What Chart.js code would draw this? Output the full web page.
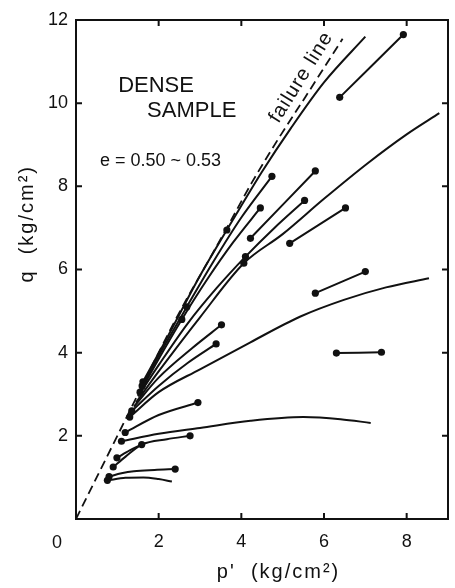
<!DOCTYPE html>
<html><head><meta charset="utf-8">
<script src="https://cdn.jsdelivr.net/npm/chart.js@4.4.1/dist/chart.umd.min.js"></script>
<style>html,body{margin:0;padding:0;background:#fff;}</style>
</head><body>
<canvas id="c" width="455" height="588"></canvas>
<script>
// ---- data (p', q) in kg/cm2 ----
const xTicks = [2, 4, 6, 8];
const yTicks = [2, 4, 6, 8, 10, 12];
const failureLine = [[0,0],[0.5,1.0],[1.0,2.0],[1.6,3.2],[2.0,4.0],[2.6,5.15],[3.2,6.2],[3.65,7.0],[4.26,8.1],[4.9,9.15],[5.55,10.15],[6.0,10.85],[6.45,11.55]];
const pathL1 = [[1.62,3.3],[2.2,4.35],[3.0,5.85],[3.8,7.2],[4.5,8.35],[5.2,9.4],[6.0,10.5],[7.0,11.6]];
const pathL2 = [[1.6,3.2],[2.1,4.1],[2.68,5.1],[3.3,6.15],[4.0,7.25],[4.74,8.24]];
const pathL3 = [[1.55,3.05],[2.0,3.85],[2.56,4.8],[3.2,5.8],[3.8,6.65],[4.46,7.48]];
const pathL4 = [[1.5,2.95],[2.0,3.7],[2.7,4.7],[3.4,5.55],[4.1,6.31],[4.8,7.0],[5.53,7.66]];
const pathL5 = [[1.45,2.8],[2.0,3.55],[3.0,4.85],[4.06,6.15],[5.0,6.85],[6.0,7.7],[7.05,8.55],[8.0,9.25],[8.79,9.76]];
const pathL6 = [[1.4,2.7],[2.0,3.4],[2.8,4.1],[3.52,4.67]];
const pathL7 = [[1.35,2.6],[2.0,3.2],[2.7,3.75],[3.39,4.21]];
const pathL8 = [[1.3,2.45],[2.0,3.05],[3.0,3.6],[4.22,4.25],[5.43,4.87],[6.48,5.27],[7.5,5.57],[8.54,5.79]];
const pathL9 = [[1.19,2.08],[2.0,2.5],[2.95,2.8]];
const pathL10 = [[1.1,1.87],[2.0,2.05],[3.0,2.19],[4.22,2.36],[5.5,2.45],[6.4,2.4],[7.13,2.31]];
const pathL11 = [[0.9,1.25],[1.2,1.5],[1.59,1.79],[2.2,1.92],[2.76,2.0]];
const pathL11b = [[0.99,1.47],[1.3,1.65],[1.59,1.79]];
const pathL12 = [[0.8,1.02],[1.1,1.1],[1.4,1.15],[1.9,1.18],[2.4,1.2]];
const pathL13 = [[0.76,0.93],[1.2,0.99],[1.63,1.0],[2.0,0.96],[2.32,0.9]];
const segS1 = [[4.22,6.75],[5.79,8.37]];
const segS2 = [[5.17,6.63],[6.52,7.48]];
const segS3 = [[6.38,10.14],[7.92,11.65]];
const segS4 = [[5.79,5.43],[7.0,5.95]];
const segS5 = [[6.30,3.99],[7.39,4.01]];
const markers = [
  [4.22,6.75],[5.79,8.37],[5.17,6.63],[6.52,7.48],[6.38,10.14],[7.92,11.65],[5.79,5.43],[7.0,5.95],[6.30,3.99],[7.39,4.01],
  [4.74,8.24],[4.46,7.48],[5.53,7.66],[3.52,4.67],[3.39,4.21],[2.95,2.8],[2.76,2.0],[2.4,1.2],
  [2.68,5.1],[2.56,4.8],[4.1,6.31],[4.06,6.15],[3.65,6.95],[1.59,1.79],
  [1.62,3.3],[1.6,3.2],[1.55,3.05],[1.35,2.6],[1.3,2.45],[1.19,2.08],[1.1,1.87],[0.99,1.47],[0.9,1.25],[0.8,1.02],[0.76,0.93]
];

const toXY = a => a.map(([x,y]) => ({x, y}));
const solidPaths = [pathL1,pathL2,pathL3,pathL4,pathL5,pathL6,pathL7,pathL8,pathL9,pathL10,pathL11,pathL11b,pathL12,pathL13,segS1,segS2,segS3,segS4,segS5];
const INK = '#111';
const FONT = "'Liberation Sans', Arial, sans-serif";

const datasets = [];
datasets.push({data: toXY(failureLine), showLine: true, borderColor: INK, borderWidth: 1.8, borderDash: [9,5],
  pointRadius: 0, cubicInterpolationMode: 'monotone', fill: false});
solidPaths.forEach(p => datasets.push({data: toXY(p), showLine: true, borderColor: INK, borderWidth: 2,
  pointRadius: 0, cubicInterpolationMode: 'monotone', fill: false}));
datasets.push({data: toXY(markers), showLine: false, pointRadius: 3.6, pointBackgroundColor: INK, pointBorderColor: INK, pointBorderWidth: 0});

const deco = {
  id: 'deco',
  afterDraw(chart) {
    const {ctx, chartArea: a, scales: {x, y}} = chart;
    ctx.save();
    ctx.strokeStyle = INK; ctx.fillStyle = INK; ctx.lineWidth = 2;
    ctx.strokeRect(a.left, a.top, a.right - a.left, a.bottom - a.top);
    ctx.beginPath();
    xTicks.forEach(v => { const px = x.getPixelForValue(v);
      ctx.moveTo(px, a.bottom); ctx.lineTo(px, a.bottom - 6);
      ctx.moveTo(px, a.top); ctx.lineTo(px, a.top + 6); });
    yTicks.slice(0, -1).forEach(v => { const py = y.getPixelForValue(v);
      ctx.moveTo(a.left, py); ctx.lineTo(a.left + 6, py);
      ctx.moveTo(a.right, py); ctx.lineTo(a.right - 6, py); });
    ctx.stroke();
    // origin label
    ctx.font = '18px ' + FONT; ctx.textAlign = 'center'; ctx.textBaseline = 'middle';
    ctx.fillText('0', a.left - 19, a.bottom + 24);
    // axis titles
    ctx.font = '20px ' + FONT; ctx.letterSpacing = '2px';
    ctx.fillText("p'  (kg/cm²)", x.getPixelForValue(4.9), a.bottom + 53);
    ctx.save(); ctx.translate(27, y.getPixelForValue(7.1)); ctx.rotate(-Math.PI/2);
    ctx.fillText('q  (kg/cm²)', 0, 0); ctx.restore();
    ctx.letterSpacing = '0px';
    // annotations
    ctx.textAlign = 'left'; ctx.textBaseline = 'alphabetic';
    ctx.font = '22px ' + FONT;
    ctx.fillText('DENSE', x.getPixelForValue(1.02), y.getPixelForValue(10.27));
    ctx.fillText('SAMPLE', x.getPixelForValue(1.72), y.getPixelForValue(9.67));
    ctx.font = '18px ' + FONT;
    ctx.textBaseline = 'middle';
    ctx.fillText('e = 0.50 ~ 0.53', x.getPixelForValue(0.58), y.getPixelForValue(8.61));
    ctx.save(); ctx.translate(x.getPixelForValue(5.45), y.getPixelForValue(10.62)); ctx.rotate(-58 * Math.PI/180);
    ctx.textAlign = 'center'; ctx.font = '20px ' + FONT; ctx.letterSpacing = '1px';
    ctx.fillText('failure line', 0, 0); ctx.restore();
    ctx.restore();
  }
};

new Chart(document.getElementById('c'), {
  type: 'scatter',
  data: {datasets},
  options: {
    responsive: false, animation: false, devicePixelRatio: 1,
    layout: {padding: {top: 20, right: 7, left: 0, bottom: 0}},
    plugins: {legend: {display: false}, tooltip: {enabled: false}},
    scales: {
      x: {type: 'linear', min: 0, max: 9,
        afterFit: s => { s.height = 69; },
        grid: {display: false, drawTicks: false}, border: {display: false},
        ticks: {stepSize: 2, includeBounds: false, padding: 12, color: INK, font: {family: FONT, size: 18},
          callback: v => (xTicks.includes(v) ? String(v) : '')}},
      y: {type: 'linear', min: 0, max: 12,
        afterFit: s => { s.width = 76; },
        grid: {display: false, drawTicks: false}, border: {display: false},
        ticks: {stepSize: 2, includeBounds: false, padding: 8, color: INK, font: {family: FONT, size: 18},
          callback: v => (yTicks.includes(v) ? String(v) : '')}}
    }
  },
  plugins: [deco]
});
</script>
</body></html>
